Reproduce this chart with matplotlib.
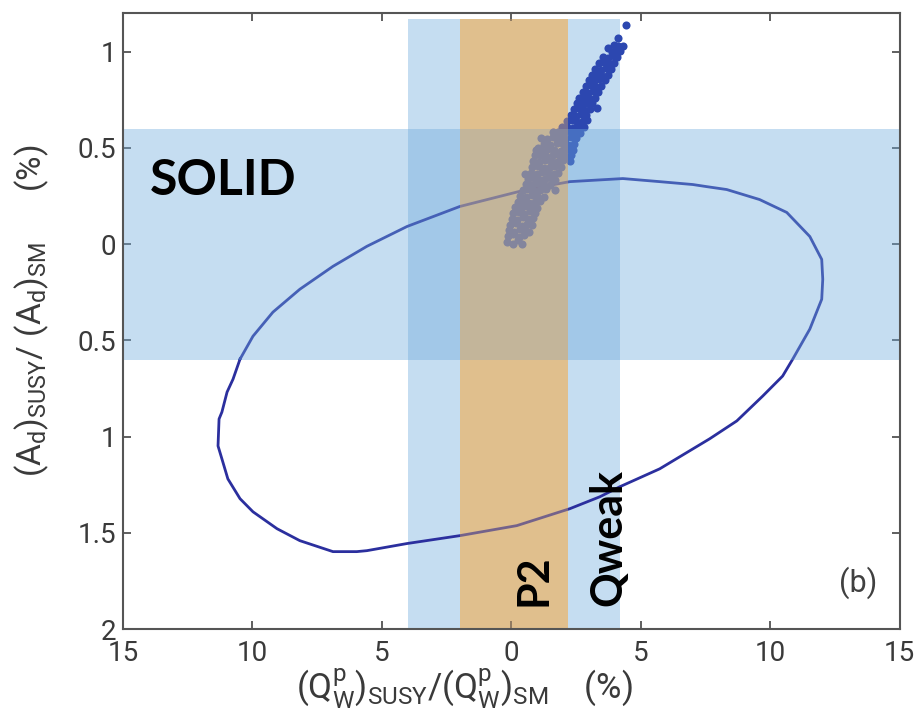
import numpy as np
import matplotlib
matplotlib.use('Agg')
import matplotlib.pyplot as plt

plt.rcParams['font.family'] = ['Roboto', 'DejaVu Sans']
plt.rcParams['mathtext.fontset'] = 'custom'
plt.rcParams['mathtext.rm'] = 'Roboto'
plt.rcParams['mathtext.it'] = 'Roboto'
plt.rcParams['mathtext.default'] = 'rm'

# closed contour
ellipse_x = [-10.48, -9.98, -9.21, -8.17, -6.89, -5.58, -4.03, -1.99, 0.60, 2.26,
             4.31, 5.73, 7.01, 7.55, 8.32, 9.59, 10.64, 11.53, 11.99, 12.03,
             11.99, 11.53, 10.87, 10.48, 9.71, 8.71, 7.66, 5.73, 4.19, 3.42,
             2.26, 0.21, -1.99, -4.03, -5.58, -5.97, -6.89, -8.17, -9.05, -9.98,
             -10.48, -10.95, -11.18, -11.33, -11.29, -11.18, -10.98, -10.75, -10.48]
ellipse_y = [-0.598, -0.479, -0.354, -0.235, -0.116, -0.012, 0.091, 0.195, 0.283, 0.324,
             0.340, 0.324, 0.309, 0.298, 0.283, 0.231, 0.164, 0.039, -0.080, -0.183,
             -0.287, -0.442, -0.598, -0.686, -0.790, -0.919, -1.012, -1.168, -1.261, -1.313,
             -1.375, -1.463, -1.515, -1.556, -1.593, -1.598, -1.598, -1.541, -1.479, -1.391,
             -1.323, -1.220, -1.116, -1.049, -0.909, -0.873, -0.769, -0.702, -0.598]

# scan points
cloud_x = [-0.17, 0.05, 0.25, 0.40,
           -0.12, 0.08, 0.30, 0.50,
           -0.08, 0.12, 0.35, 0.55, 0.68,
           -0.04, 0.18, 0.40, 0.60, 0.78,
           0.02, 0.22, 0.45, 0.65, 0.85,
           0.08, 0.30, 0.50, 0.72, 0.92,
           0.15, 0.36, 0.58, 0.80, 1.00,
           0.25, 0.45, 0.68, 0.90, 1.12,
           0.35, 0.55, 0.78, 1.00, 1.25,
           0.45, 0.65, 0.88, 1.10, 1.35, 1.68,
           0.55, 0.78, 1.00, 1.22, 1.48,
           0.65, 0.88, 1.10, 1.32, 1.55, 1.70,
           0.52, 0.75, 0.98, 1.20, 1.42, 1.65, 1.82,
           0.80, 1.02, 1.25, 1.48, 1.70, 1.92,
           0.85, 1.08, 1.30, 1.55, 1.78, 2.00, 2.25,
           0.90, 1.12, 1.35, 1.60, 1.85, 2.08, 2.30,
           0.95, 1.18, 1.42, 1.66, 1.90, 2.15, 2.38,
           1.02, 1.25, 1.50, 1.75, 1.98, 2.20, 2.42,
           1.15, 1.38, 1.62, 1.85, 2.08, 2.30, 2.50,
           1.60, 1.80, 2.02, 2.25, 2.45, 2.65,
           1.95, 2.15, 2.38, 2.60, 2.80,
           2.15, 2.35, 2.55, 2.75, 2.92,
           2.30, 2.50, 2.70, 2.90,
           2.42, 2.62, 2.82, 3.02, 3.30,
           2.52, 2.72, 2.92, 3.12,
           2.62, 2.82, 3.02, 3.22,
           2.75, 2.95, 3.15, 3.35,
           2.88, 3.08, 3.28, 3.45,
           3.00, 3.20, 3.40, 3.60,
           3.12, 3.32, 3.52, 3.72,
           3.25, 3.45, 3.65, 3.85,
           3.38, 3.58, 3.78, 3.98,
           3.55, 3.75, 3.95, 4.10,
           3.73, 3.90, 4.05, 4.20,
           3.95, 4.12, 4.30,
           4.11, 4.42]
cloud_y = [0.013, 0.000, 0.020, -0.002,
           0.040, 0.050, 0.035, 0.045,
           0.075, 0.065, 0.080, 0.070, 0.060,
           0.100, 0.110, 0.095, 0.105, 0.100,
           0.130, 0.125, 0.140, 0.130, 0.135,
           0.160, 0.165, 0.155, 0.170, 0.160,
           0.190, 0.185, 0.195, 0.190, 0.185,
           0.220, 0.225, 0.215, 0.220, 0.225,
           0.250, 0.245, 0.255, 0.250, 0.245,
           0.280, 0.285, 0.275, 0.280, 0.285, 0.283,
           0.310, 0.305, 0.315, 0.310, 0.305,
           0.340, 0.345, 0.335, 0.340, 0.345, 0.335,
           0.366, 0.370, 0.365, 0.375, 0.370, 0.365, 0.370,
           0.400, 0.405, 0.395, 0.400, 0.405, 0.400,
           0.430, 0.425, 0.435, 0.430, 0.425, 0.435, 0.430,
           0.460, 0.465, 0.455, 0.460, 0.465, 0.455, 0.460,
           0.490, 0.485, 0.495, 0.490, 0.485, 0.495, 0.490,
           0.500, 0.520, 0.515, 0.525, 0.520, 0.515, 0.520,
           0.550, 0.545, 0.555, 0.550, 0.545, 0.555, 0.550,
           0.583, 0.580, 0.575, 0.585, 0.580, 0.575,
           0.609, 0.610, 0.605, 0.615, 0.610,
           0.640, 0.645, 0.635, 0.640, 0.645,
           0.670, 0.665, 0.675, 0.670,
           0.700, 0.705, 0.695, 0.700, 0.708,
           0.730, 0.725, 0.735, 0.730,
           0.760, 0.765, 0.755, 0.760,
           0.790, 0.785, 0.795, 0.790,
           0.820, 0.825, 0.815, 0.820,
           0.850, 0.845, 0.855, 0.850,
           0.880, 0.885, 0.875, 0.880,
           0.910, 0.905, 0.915, 0.910,
           0.940, 0.945, 0.935, 0.940,
           0.970, 0.965, 0.975, 0.970,
           1.020, 1.000, 0.995, 1.005,
           1.035, 1.030, 1.030,
           1.070, 1.138]

solid_band = (-0.6, 0.6)
qweak_band = (-4.0, 4.2)
p2_band = (-2.0, 2.2)
band_top = 1.17

x_ticks = [-15, -10, -5, 0, 5, 10, 15]
x_tick_labels = ['15', '10', '5', '0', '5', '10', '15']
y_ticks = [-2, -1.5, -1, -0.5, 0, 0.5, 1]
y_tick_labels = ['2', '1.5', '1', '0.5', '0', '0.5', '1']

fig = plt.figure(figsize=(9.18, 7.23), dpi=100)
ax = fig.add_axes([0.134, 0.130, 0.846, 0.852])
ax.set_xlim(-15, 15)
ax.set_ylim(-2, 1.2)

# bands: Qweak and P2 base below the data, SOLID and P2 tint above
ax.fill_between(qweak_band, -2, band_top, color='#c5ddf1', lw=0, zorder=1)
ax.fill_between(p2_band, -2, band_top, color='#eed7a4', lw=0, zorder=1.5)
ax.plot(ellipse_x, ellipse_y, color='#2b2f9e', lw=2.0, zorder=2)
ax.scatter(cloud_x, cloud_y, s=34, color='#2c47b0', lw=0, zorder=2.5)
ax.axhspan(solid_band[0], solid_band[1], color='#6eaadc', alpha=0.4, lw=0, zorder=3)
ax.fill_between(p2_band, -2, band_top, color='#cfa273', alpha=0.45, lw=0, zorder=3.5)

ax.text(-13.96, 0.257, 'SOLID', family='Lato', weight='bold', fontsize=36,
        ha='left', va='baseline', zorder=5)
ax.text(1.37, -1.878, 'P2', family='Lato', weight='bold', fontsize=31, rotation=90,
        rotation_mode='anchor', ha='left', va='baseline', zorder=5)
ax.text(4.27, -1.878, 'Qweak', family='Lato', weight='bold', fontsize=31, rotation=90,
        rotation_mode='anchor', ha='left', va='baseline', zorder=5)
ax.text(13.4, -1.76, '(b)', fontsize=22, color='#404040', ha='center', va='center', zorder=5)

ax.set_xticks(x_ticks)
ax.set_xticklabels(x_tick_labels)
ax.set_yticks(y_ticks)
ax.set_yticklabels(y_tick_labels)
ax.tick_params(direction='in', length=6, width=1.2, color='#444444', labelcolor='#3a3a3a',
               labelsize=20, top=True, right=True)
ax.tick_params(axis='x', pad=8)
ax.tick_params(axis='y', pad=5)
for s in ax.spines.values():
    s.set_color('#555555')
    s.set_linewidth(1.5)
    s.set_zorder(6)

ax.set_xlabel(r'$(Q_W^p)_{SUSY}/(Q_W^p)_{SM}$    (%)', fontsize=25, color='#3a3a3a')
ax.xaxis.set_label_coords(0.44, -0.062)
fig.text(0.014, 0.57, r'$(A_d)_{SUSY}/\ (A_d)_{SM}$      (%)', rotation=90, fontsize=24,
         color='#3a3a3a', ha='left', va='center')

fig.savefig('out.png', dpi=100)
